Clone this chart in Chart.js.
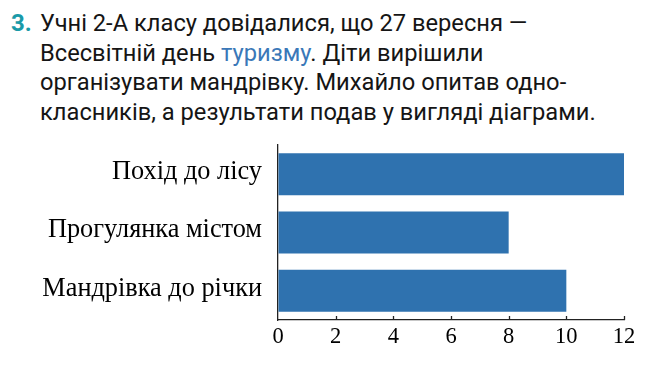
<!DOCTYPE html>
<html>
<head>
<meta charset="utf-8">
<script src="https://cdn.jsdelivr.net/npm/chart.js@4"></script>
<style>
  html, body { margin: 0; padding: 0; background: #fff; }
  body { width: 668px; height: 365px; position: relative; overflow: hidden; }
  #task {
    position: absolute; left: 40px; top: 9px; width: 625px;
    font-family: Roboto, sans-serif; font-size: 23.7px; line-height: 29.7px;
    color: #151515;
  }
  #num {
    position: absolute; left: 11px; top: 9px;
    font-family: Roboto, sans-serif; font-size: 24px; line-height: 29.7px;
    font-weight: bold; color: #1a9aa8;
  }
  .word { color: #3a78b8; }
  #wrap { position: absolute; left: 0; top: 0; width: 668px; height: 365px; }
</style>
</head>
<body>
<div id="num">3.</div>
<div id="task">Учні 2-А класу довідалися, що 27 вересня —<br>Всесвітній день <span class="word">туризму</span>. Діти вирішили<br>організувати мандрівку. Михайло опитав одно-<br>класників, а результати подав у вигляді діаграми.</div>
<div id="wrap"><canvas id="chart" width="668" height="365"></canvas></div>
<script>
const categorias = ["Похід до лісу", "Прогулянка містом", "Мандрівка до річки"];
const votos = [12, 8, 10];
const ticksX = [0, 2, 4, 6, 8, 10, 12];

const serif = "'Liberation Serif', 'Times New Roman', serif";

// pequenos traços para dentro no eixo x
const ticksParaDentro = {
  id: "ticksParaDentro",
  afterDraw(chart) {
    const { ctx, scales } = chart;
    const x = scales.x;
    ctx.save();
    ctx.strokeStyle = "#222";
    ctx.lineWidth = 1.3;
    ticksX.slice(1).forEach((v) => {
      const px = Math.round(x.getPixelForValue(v)) + 0.5;
      ctx.beginPath();
      ctx.moveTo(px, x.top);
      ctx.lineTo(px, x.top - 4);
      ctx.stroke();
    });
    ctx.restore();
  },
};

new Chart(document.getElementById("chart").getContext("2d"), {
  type: "bar",
  data: {
    labels: categorias,
    datasets: [
      {
        data: votos,
        backgroundColor: "#2f72af",
        borderWidth: 0,
        barPercentage: 1,
        categoryPercentage: 0.72,
      },
    ],
  },
  options: {
    indexAxis: "y",
    responsive: false,
    animation: false,
    events: [],
    layout: { padding: { top: 145, right: 44, left: 0, bottom: 0 } },
    plugins: { legend: { display: false }, tooltip: { enabled: false } },
    scales: {
      x: {
        min: 0,
        max: 12,
        afterBuildTicks: (s) => { s.ticks = ticksX.map((v) => ({ value: v })); },
        afterFit: (s) => { s.height = 45; },
        grid: { drawOnChartArea: false, drawTicks: false },
        border: { color: "#222", width: 1.3 },
        ticks: { color: "#000", padding: 4, maxRotation: 0, font: { family: serif, size: 22.5 } },
      },
      y: {
        afterFit: (s) => { s.width = 278; },
        grid: { drawOnChartArea: false, drawTicks: false },
        border: { color: "#222", width: 1.3 },
        ticks: { color: "#000", padding: 16, labelOffset: -2, font: { family: serif, size: 26.3 } },
      },
    },
  },
  plugins: [ticksParaDentro],
});
</script>
</body>
</html>
